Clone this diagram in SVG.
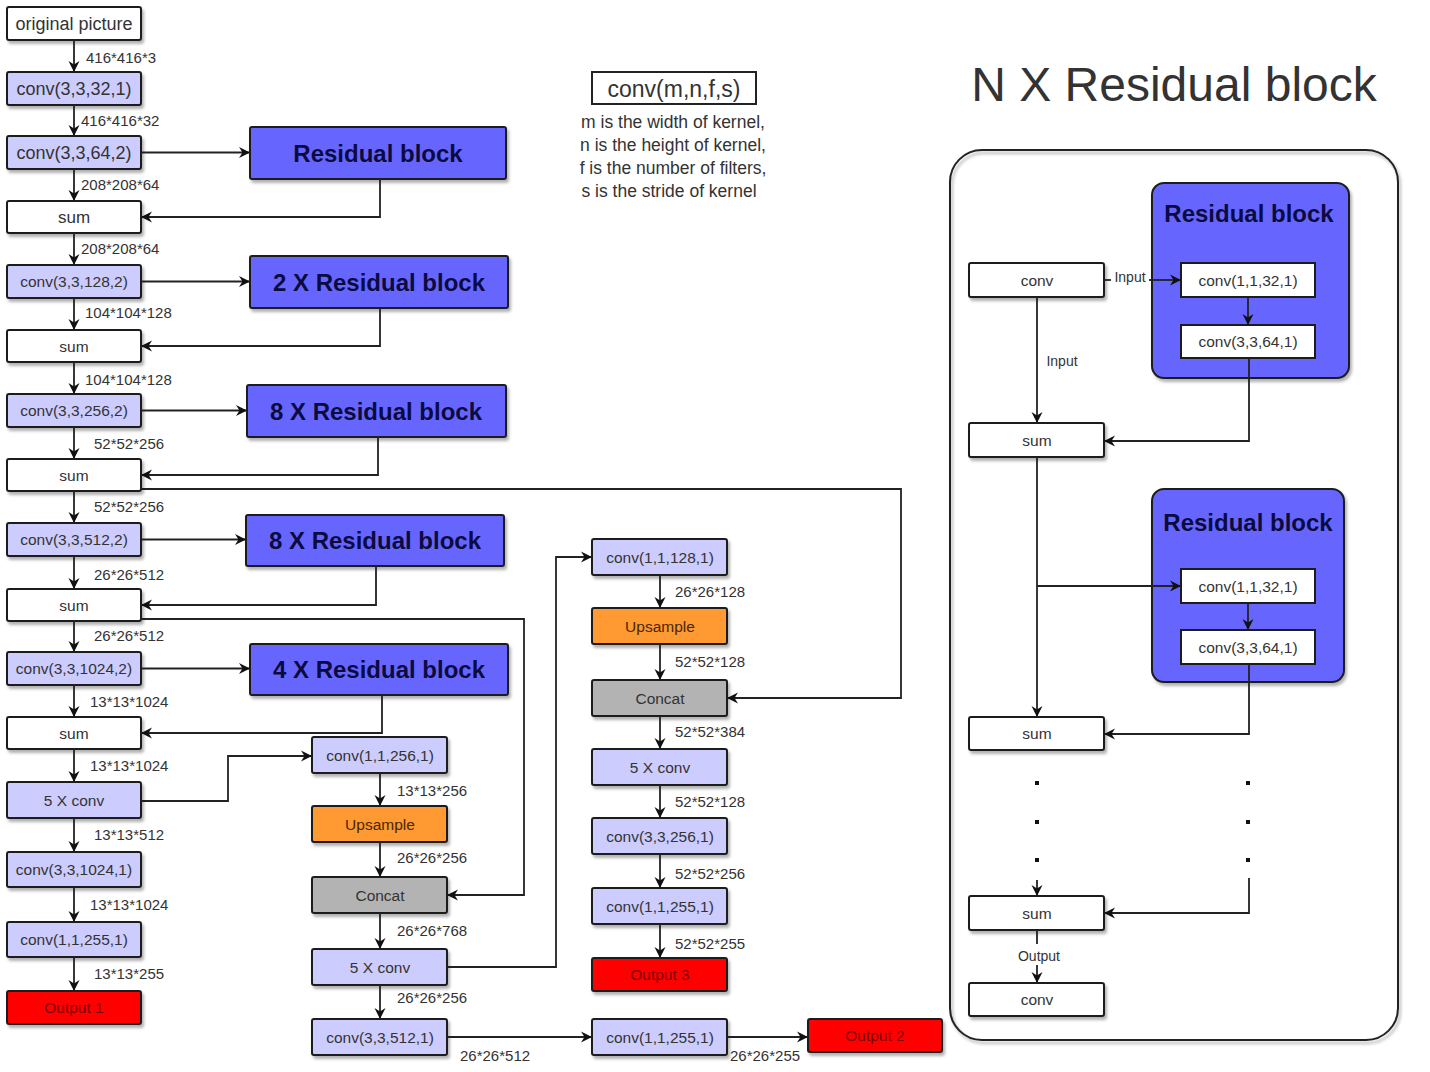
<svg xmlns="http://www.w3.org/2000/svg" width="1430" height="1072" viewBox="0 0 1430 1072">
<defs>
<filter id="sh" x="-10%" y="-10%" width="130%" height="140%">
<feDropShadow dx="2" dy="3" stdDeviation="1.5" flood-color="#000" flood-opacity="0.3"/>
</filter>
<marker id="ar" markerUnits="userSpaceOnUse" markerWidth="12" markerHeight="12" refX="11" refY="6" orient="auto">
<path d="M0,0.5 L11,6 L0,11.5 L3.5,6 Z" fill="#111"/>
</marker>
<style>
.b{stroke:#1c1c1c;stroke-width:2;filter:url(#sh)}
.w{fill:#fff}
.l{fill:#ccccff}
.o{fill:#ff9933}
.g{fill:#b3b3b3}
.r{fill:#ff0000}
.bl{fill:#6666ff}
text{font-family:"Liberation Sans",Arial,sans-serif;fill:#333;text-anchor:middle}
.t18{font-size:18px}
.t15{font-size:15.5px}
.rb{font-size:24px;font-weight:bold;fill:#0b0b40}
.lab{font-size:15px;text-anchor:start;fill:#333}
.out{fill:#800000;font-size:15.5px}
.up{fill:#4a2600;font-size:15.5px}
.c{fill:none;stroke:#222;stroke-width:1.8}
.ca{fill:none;stroke:#222;stroke-width:1.8;marker-end:url(#ar)}
</style>
</defs>
<rect width="1430" height="1072" fill="#fff"/>

<g id="labels">
<text class="lab" x="86" y="63">416*416*3</text>
<text class="lab" x="81" y="126">416*416*32</text>
<text class="lab" x="81" y="190">208*208*64</text>
<text class="lab" x="81" y="254">208*208*64</text>
<text class="lab" x="85" y="318">104*104*128</text>
<text class="lab" x="85" y="385">104*104*128</text>
<text class="lab" x="94" y="449">52*52*256</text>
<text class="lab" x="94" y="512">52*52*256</text>
<text class="lab" x="94" y="580">26*26*512</text>
<text class="lab" x="94" y="641">26*26*512</text>
<text class="lab" x="90" y="707">13*13*1024</text>
<text class="lab" x="90" y="771">13*13*1024</text>
<text class="lab" x="94" y="840">13*13*512</text>
<text class="lab" x="90" y="910">13*13*1024</text>
<text class="lab" x="94" y="979">13*13*255</text>
<text class="lab" x="397" y="796">13*13*256</text>
<text class="lab" x="397" y="863">26*26*256</text>
<text class="lab" x="397" y="936">26*26*768</text>
<text class="lab" x="397" y="1003">26*26*256</text>
<text class="lab" x="460" y="1061">26*26*512</text>
<text class="lab" x="675" y="597">26*26*128</text>
<text class="lab" x="675" y="667">52*52*128</text>
<text class="lab" x="675" y="737">52*52*384</text>
<text class="lab" x="675" y="807">52*52*128</text>
<text class="lab" x="675" y="879">52*52*256</text>
<text class="lab" x="675" y="949">52*52*255</text>
<text class="lab" x="730" y="1061">26*26*255</text>
</g>

<g id="n-orig"><rect class="b w" x="7" y="7" width="134" height="33" rx="2"/><text class="t18" x="74" y="30">original picture</text></g>
<g id="n-c1"><rect class="b l" x="7" y="72" width="134" height="33" rx="2"/><text class="t18" x="74" y="95">conv(3,3,32,1)</text></g>
<g id="n-c2"><rect class="b l" x="7" y="136" width="134" height="33" rx="2"/><text class="t18" x="74" y="159">conv(3,3,64,2)</text></g>
<g id="n-s1"><rect class="b w" x="7" y="201" width="134" height="32" rx="2"/><text x="74" y="223" font-size="17">sum</text></g>
<g id="n-c3"><rect class="b l" x="7" y="265" width="134" height="33" rx="2"/><text class="t15" x="74" y="287">conv(3,3,128,2)</text></g>
<g id="n-s2"><rect class="b w" x="7" y="330" width="134" height="32" rx="2"/><text class="t15" x="74" y="352">sum</text></g>
<g id="n-c4"><rect class="b l" x="7" y="394" width="134" height="33" rx="2"/><text class="t15" x="74" y="416">conv(3,3,256,2)</text></g>
<g id="n-s3"><rect class="b w" x="7" y="459" width="134" height="32" rx="2"/><text class="t15" x="74" y="481">sum</text></g>
<g id="n-c5"><rect class="b l" x="7" y="523" width="134" height="33" rx="2"/><text class="t15" x="74" y="545">conv(3,3,512,2)</text></g>
<g id="n-s4"><rect class="b w" x="7" y="589" width="134" height="32" rx="2"/><text class="t15" x="74" y="611">sum</text></g>
<g id="n-c6"><rect class="b l" x="7" y="652" width="134" height="33" rx="2"/><text class="t15" x="74" y="674">conv(3,3,1024,2)</text></g>
<g id="n-s5"><rect class="b w" x="7" y="717" width="134" height="32" rx="2"/><text class="t15" x="74" y="739">sum</text></g>
<g id="n-5c1"><rect class="b l" x="7" y="782" width="134" height="36" rx="2"/><text class="t15" x="74" y="806">5 X conv</text></g>
<g id="n-c7"><rect class="b l" x="7" y="852" width="134" height="35" rx="2"/><text class="t15" x="74" y="875">conv(3,3,1024,1)</text></g>
<g id="n-c8"><rect class="b l" x="7" y="922" width="134" height="35" rx="2"/><text class="t15" x="74" y="945">conv(1,1,255,1)</text></g>
<g id="n-out1"><rect class="b r" x="7" y="991" width="134" height="33" rx="2"/><text class="out" x="74" y="1013">Output 1</text></g>

<g id="rb1"><rect class="b bl" x="250" y="127" width="256" height="52" rx="2"/><text class="rb" x="378" y="162">Residual block</text></g>
<g id="rb2"><rect class="b bl" x="250" y="256" width="258" height="52" rx="2"/><text class="rb" x="379" y="291">2 X Residual block</text></g>
<g id="rb3"><rect class="b bl" x="247" y="385" width="259" height="52" rx="2"/><text class="rb" x="376" y="420">8 X Residual block</text></g>
<g id="rb4"><rect class="b bl" x="246" y="515" width="258" height="51" rx="2"/><text class="rb" x="375" y="549">8 X Residual block</text></g>
<g id="rb5"><rect class="b bl" x="250" y="644" width="258" height="51" rx="2"/><text class="rb" x="379" y="678">4 X Residual block</text></g>

<g id="m1-c1"><rect class="b l" x="312" y="737" width="135" height="36" rx="2"/><text class="t15" x="380" y="761">conv(1,1,256,1)</text></g>
<g id="m1-up"><rect class="b o" x="312" y="806" width="135" height="36" rx="2"/><text class="up" x="380" y="830">Upsample</text></g>
<g id="m1-cat"><rect class="b g" x="312" y="877" width="135" height="36" rx="2"/><text class="t15" x="380" y="901">Concat</text></g>
<g id="m1-5c"><rect class="b l" x="312" y="949" width="135" height="36" rx="2"/><text class="t15" x="380" y="973">5 X conv</text></g>
<g id="m1-c2"><rect class="b l" x="312" y="1019" width="135" height="36" rx="2"/><text class="t15" x="380" y="1043">conv(3,3,512,1)</text></g>

<g id="m2-c1"><rect class="b l" x="592" y="539" width="135" height="36" rx="2"/><text class="t15" x="660" y="563">conv(1,1,128,1)</text></g>
<g id="m2-up"><rect class="b o" x="592" y="608" width="135" height="36" rx="2"/><text class="up" x="660" y="632">Upsample</text></g>
<g id="m2-cat"><rect class="b g" x="592" y="680" width="135" height="36" rx="2"/><text class="t15" x="660" y="704">Concat</text></g>
<g id="m2-5c"><rect class="b l" x="592" y="749" width="135" height="36" rx="2"/><text class="t15" x="660" y="773">5 X conv</text></g>
<g id="m2-c2"><rect class="b l" x="592" y="818" width="135" height="36" rx="2"/><text class="t15" x="660" y="842">conv(3,3,256,1)</text></g>
<g id="m2-c3"><rect class="b l" x="592" y="888" width="135" height="36" rx="2"/><text class="t15" x="660" y="912">conv(1,1,255,1)</text></g>
<g id="m2-out3"><rect class="b r" x="592" y="958" width="135" height="33" rx="2"/><text class="out" x="660" y="980">Output 3</text></g>
<g id="m2-c4"><rect class="b l" x="592" y="1019" width="135" height="36" rx="2"/><text class="t15" x="660" y="1043">conv(1,1,255,1)</text></g>
<g id="out2"><rect class="b r" x="808" y="1019" width="134" height="33" rx="2"/><text class="out" x="875" y="1041">Output 2</text></g>

<g id="legend">
<rect x="592" y="72" width="164" height="32" fill="#fff" stroke="#222" stroke-width="2"/>
<text x="674" y="97" font-size="23">conv(m,n,f,s)</text>
<text x="673" y="128" font-size="17.5">m is the width of kernel,</text>
<text x="673" y="151" font-size="17.5">n is the height of kernel,</text>
<text x="673" y="174" font-size="17.5">f is the number of filters,</text>
<text x="669" y="197" font-size="17.5">s is the stride of kernel</text>
</g>

<g id="title"><text x="1174" y="101" font-size="48" fill="#111">N X Residual block</text></g>

<g id="panel"><rect x="950" y="150" width="448" height="890" rx="32" fill="none" stroke="#222" stroke-width="2" filter="url(#sh)"/></g>

<g id="p-rb1"><rect class="b bl" x="1152" y="183" width="197" height="195" rx="12"/><text class="rb" x="1249" y="222">Residual block</text></g>
<g id="p-rb1-c1"><rect x="1181" y="263" width="134" height="34" fill="#fff" stroke="#1c1c1c" stroke-width="2"/><text class="t15" x="1248" y="286">conv(1,1,32,1)</text></g>
<g id="p-rb1-c2"><rect x="1181" y="325" width="134" height="33" fill="#fff" stroke="#1c1c1c" stroke-width="2"/><text class="t15" x="1248" y="347">conv(3,3,64,1)</text></g>
<g id="p-rb2"><rect class="b bl" x="1152" y="489" width="192" height="193" rx="12"/><text class="rb" x="1248" y="531">Residual block</text></g>
<g id="p-rb2-c1"><rect x="1181" y="569" width="134" height="34" fill="#fff" stroke="#1c1c1c" stroke-width="2"/><text class="t15" x="1248" y="592">conv(1,1,32,1)</text></g>
<g id="p-rb2-c2"><rect x="1181" y="630" width="134" height="34" fill="#fff" stroke="#1c1c1c" stroke-width="2"/><text class="t15" x="1248" y="653">conv(3,3,64,1)</text></g>

<g id="p-conv1"><rect class="b w" x="969" y="263" width="135" height="34" rx="2"/><text class="t15" x="1037" y="286">conv</text></g>
<g id="p-sum1"><rect class="b w" x="969" y="423" width="135" height="34" rx="2"/><text class="t15" x="1037" y="446">sum</text></g>
<g id="p-sum2"><rect class="b w" x="969" y="717" width="135" height="33" rx="2"/><text class="t15" x="1037" y="739">sum</text></g>
<g id="p-sum3"><rect class="b w" x="969" y="896" width="135" height="34" rx="2"/><text class="t15" x="1037" y="919">sum</text></g>
<g id="p-conv2"><rect class="b w" x="969" y="983" width="135" height="33" rx="2"/><text class="t15" x="1037" y="1005">conv</text></g>

<g id="p-labels">
<text x="1130" y="282" font-size="14">Input</text>
<text x="1062" y="366" font-size="14">Input</text>
<text x="1039" y="961" font-size="14">Output</text>
</g>
<g id="dots" fill="#111">
<rect x="1035" y="781" width="4" height="4"/><rect x="1035" y="820" width="4" height="4"/><rect x="1035" y="858" width="4" height="4"/>
<rect x="1246" y="781" width="4" height="4"/><rect x="1246" y="820" width="4" height="4"/><rect x="1246" y="858" width="4" height="4"/>
</g>

<g id="connectors">
<path class="ca" d="M74,40 V72"/>
<path class="ca" d="M74,105 V136"/>
<path class="ca" d="M74,169 V201"/>
<path class="ca" d="M74,233 V265"/>
<path class="ca" d="M74,298 V330"/>
<path class="ca" d="M74,362 V394"/>
<path class="ca" d="M74,427 V459"/>
<path class="ca" d="M74,491 V523"/>
<path class="ca" d="M74,556 V589"/>
<path class="ca" d="M74,621 V652"/>
<path class="ca" d="M74,685 V717"/>
<path class="ca" d="M74,749 V782"/>
<path class="ca" d="M74,818 V852"/>
<path class="ca" d="M74,887 V922"/>
<path class="ca" d="M74,957 V991"/>
<path class="ca" d="M141,152.5 H250"/>
<path class="ca" d="M141,281.5 H250"/>
<path class="ca" d="M141,410.5 H247"/>
<path class="ca" d="M141,539.5 H246"/>
<path class="ca" d="M141,668.5 H250"/>
<path class="ca" d="M380,179 V217 H141"/>
<path class="ca" d="M380,308 V346 H141"/>
<path class="ca" d="M378,437 V475 H141"/>
<path class="ca" d="M376,566 V605 H141"/>
<path class="ca" d="M382,695 V733 H141"/>
<path class="ca" d="M141,489 H901 V698 H727"/>
<path class="ca" d="M141,619 H524 V895 H447"/>
<path class="ca" d="M141,801 H228 V756 H312"/>
<path class="ca" d="M380,773 V806"/>
<path class="ca" d="M380,842 V877"/>
<path class="ca" d="M380,913 V949"/>
<path class="ca" d="M380,985 V1019"/>
<path class="ca" d="M447,967 H556 V557 H592"/>
<path class="ca" d="M447,1037 H592"/>
<path class="ca" d="M727,1037 H808"/>
<path class="ca" d="M660,575 V608"/>
<path class="ca" d="M660,644 V680"/>
<path class="ca" d="M660,716 V749"/>
<path class="ca" d="M660,785 V818"/>
<path class="ca" d="M660,854 V888"/>
<path class="ca" d="M660,924 V958"/>
<path class="c" d="M1104,280 H1111"/>
<path class="ca" d="M1149,280 H1181"/>
<path class="ca" d="M1037,297 V423"/>
<path class="ca" d="M1248,297 V325"/>
<path class="ca" d="M1249,358 V441 H1104"/>
<path class="ca" d="M1037,457 V717"/>
<path class="ca" d="M1037,586 H1181"/>
<path class="ca" d="M1248,603 V630"/>
<path class="ca" d="M1249,664 V734 H1104"/>
<path class="ca" d="M1037,880 V896"/>
<path class="ca" d="M1249,878 V913 H1104"/>
<path class="c" d="M1037,930 V944"/>
<path class="ca" d="M1037,965 V983"/>
</g>
</svg>
